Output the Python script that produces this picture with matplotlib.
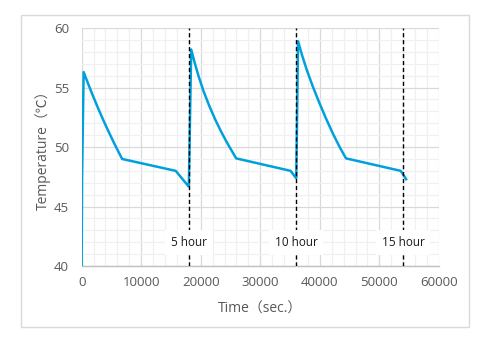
import matplotlib.pyplot as plt
from matplotlib.patches import Rectangle
from matplotlib.ticker import MultipleLocator

# Temperature history: three heating cycles, each followed by cooling
time_s = [0, 60, 330, 1000, 1800, 2700, 3600, 4500, 5400, 6100, 6800,
          15800, 17950,
          18000, 18400, 19000, 19700, 20500, 21400, 22400, 23400, 24400,
          25950, 35100, 36000,
          36050, 36350, 37000, 37800, 38800, 39900, 41000, 42200, 43400,
          44400, 53600, 54500]
temp_c = [40.0, 47.2, 56.3, 55.43, 54.42, 53.33, 52.30, 51.32, 50.38, 49.68, 49.0,
          48.0, 46.7,
          46.7, 58.2, 57.05, 55.85, 54.66, 53.50, 52.35, 51.32, 50.38,
          49.05, 48.0, 47.4,
          47.4, 58.9, 57.75, 56.50, 55.12, 53.74, 52.45, 51.13, 49.94,
          49.05, 48.0, 47.3]

# Elapsed-hour markers
marker_times = [18000, 36000, 54000]
marker_labels = ["5 hour", "10 hour", "15 hour"]
label_temp = 42.0

plt.rcParams['font.family'] = ['Open Sans', 'Noto Sans CJK JP', 'DejaVu Sans']

fig = plt.figure(figsize=(4.92, 3.42), dpi=100)
ax = fig.add_axes([0.166, 0.222, 0.726, 0.696])

# light frame around the whole chart
fig.patches.append(Rectangle((21 / 492, 1 - 327 / 342), 448 / 492, 312 / 342,
                             transform=fig.transFigure, fill=False,
                             edgecolor="#d9d9d9", linewidth=1.0))

ax.plot(time_s, temp_c, color="#00a0dc", linewidth=1.8, zorder=3)

for t, lab in zip(marker_times, marker_labels):
    ax.axvline(t, color="black", linestyle=(0, (3, 2)), linewidth=1.0, zorder=4)
    ax.text(t, label_temp, lab, ha="center", va="center", fontsize=8.5,
            color="#1a1a1a", zorder=5,
            bbox=dict(boxstyle="square,pad=0.5", facecolor="white",
                      edgecolor="none"))

ax.set_xlim(0, 60000)
ax.set_ylim(40, 60)
ax.xaxis.set_major_locator(MultipleLocator(10000))
ax.xaxis.set_minor_locator(MultipleLocator(2000))
ax.yaxis.set_major_locator(MultipleLocator(5))
ax.yaxis.set_minor_locator(MultipleLocator(1))

ax.grid(which="major", color="#d9d9d9", linewidth=0.9, zorder=1)
ax.grid(which="minor", color="#f0f0f0", linewidth=0.9, zorder=0)
ax.set_axisbelow(True)

for side in ["top", "right", "left"]:
    ax.spines[side].set_visible(False)
ax.spines["bottom"].set_color("#bfbfbf")
ax.spines["bottom"].set_linewidth(1.0)

ax.tick_params(which="both", length=0, labelsize=9.5, labelcolor="#595959")
ax.tick_params(axis="y", pad=9)
ax.tick_params(axis="x", pad=7)

ax.set_xlabel("Time（sec.）", fontsize=10, color="#595959", labelpad=9)
ax.set_ylabel("Temperature（℃）", fontsize=10, color="#595959", labelpad=2)

plt.savefig("out.png", dpi=100)
